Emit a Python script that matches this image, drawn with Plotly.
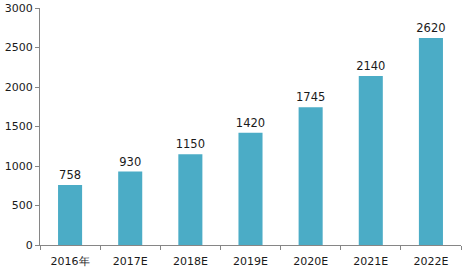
import plotly.graph_objects as go

categories = ["2016年", "2017E", "2018E", "2019E", "2020E", "2021E", "2022E"]
values = [758, 930, 1150, 1420, 1745, 2140, 2620]
y_ticks = [0, 500, 1000, 1500, 2000, 2500, 3000]

fig = go.Figure(go.Bar(
    x=categories, y=values,
    marker=dict(color="#4BACC6", line=dict(width=0)),
    text=[str(v) for v in values], textposition="outside",
    textfont=dict(size=11.5, color="#1a1a1a"),
    constraintext="none",
    cliponaxis=False,
))
fig.update_layout(
    width=463, height=272,
    margin=dict(l=40, r=2, t=8, b=27),
    paper_bgcolor="white", plot_bgcolor="white",
    font=dict(family="DejaVu Sans", size=11, color="#1a1a1a"),
    bargap=0.6, showlegend=False,
)
fig.update_xaxes(
    type="category", showgrid=False, showline=True, linecolor="#868686", linewidth=1,
    ticks="outside", tickson="boundaries", ticklen=4, tickcolor="#868686",
    tickfont=dict(size=11), ticklabelstandoff=6,
)
fig.update_yaxes(
    range=[0, 3000], tickvals=y_ticks, showgrid=False, zeroline=False,
    showline=True, linecolor="#868686", linewidth=1,
    ticks="outside", ticklen=4, tickcolor="#868686", tickfont=dict(size=11),
)
fig.write_html("out.html")
